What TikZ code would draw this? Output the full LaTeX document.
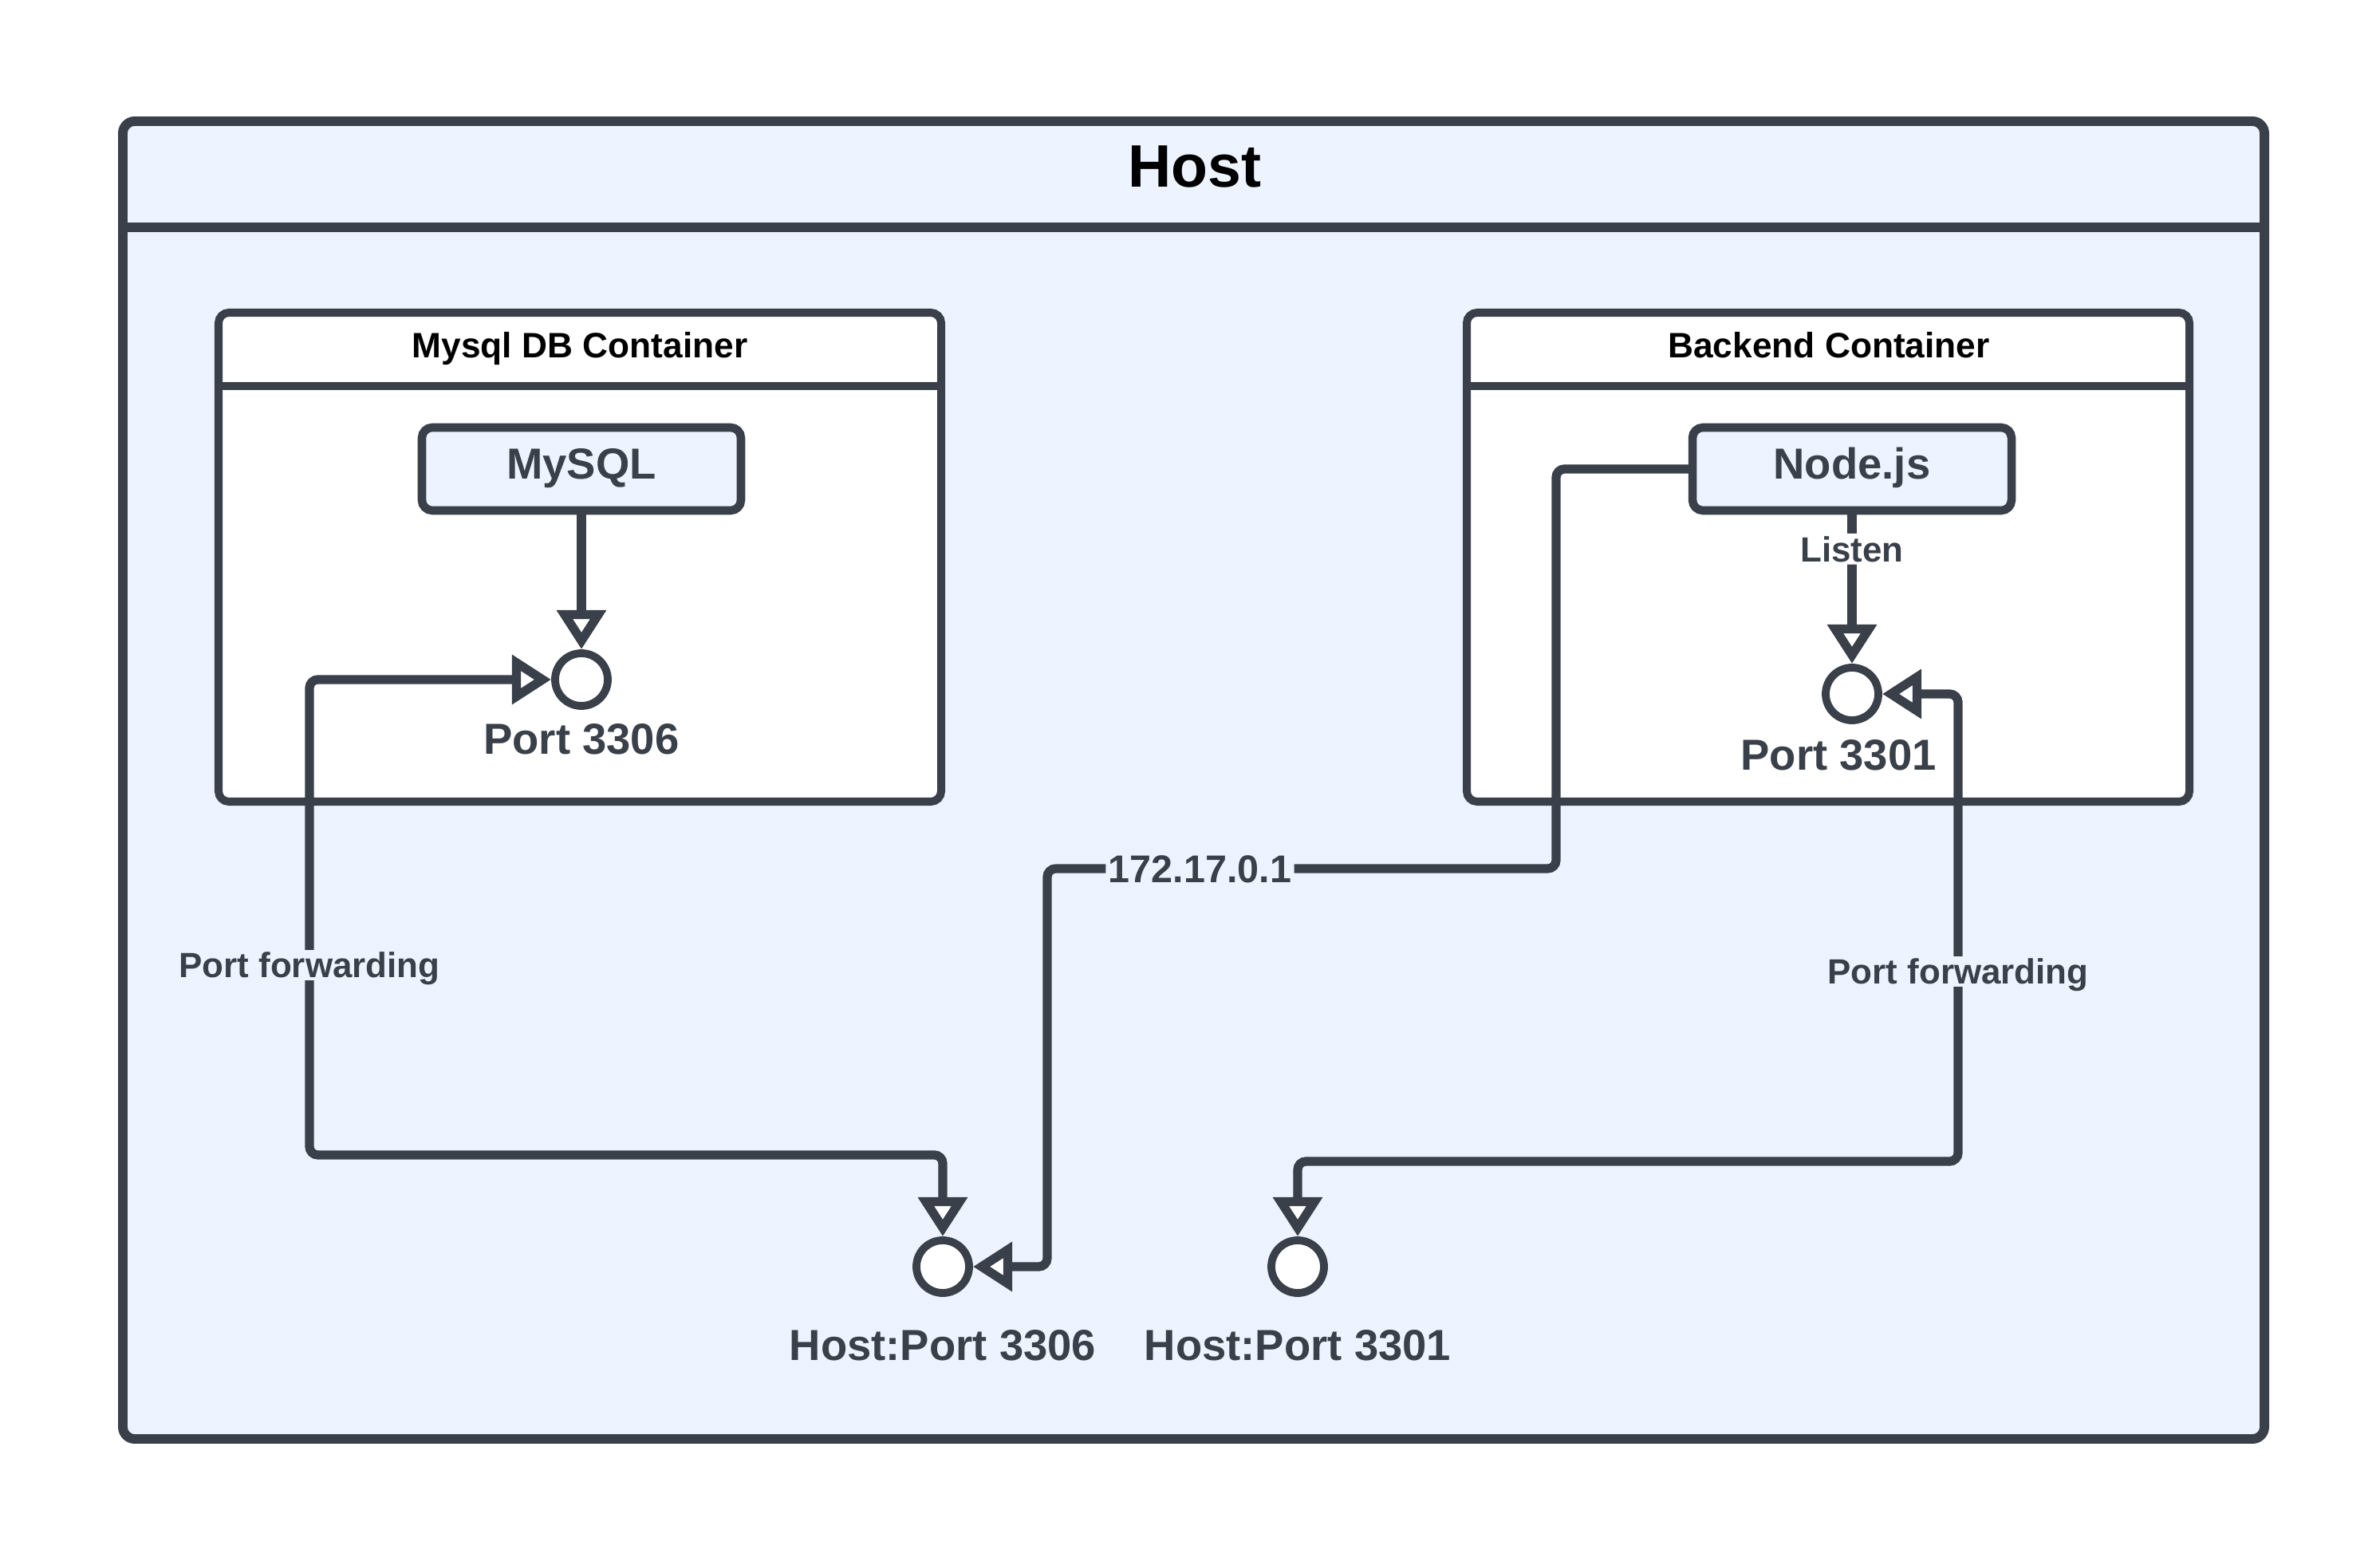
\documentclass[tikz,border=0pt]{standalone}
\usepackage{fontspec}
\setmainfont{Liberation Sans}
\usetikzlibrary{arrows.meta,positioning}
\definecolor{ink}{RGB}{58,64,73}
\definecolor{hostbg}{RGB}{237,244,255}
\tikzset{
  txt/.style={inner sep=0pt,text depth=0pt,font=\bfseries},
  big/.style={txt,text height=11.1pt,font=\fontsize{15.5}{18}\selectfont\bfseries},
  small/.style={txt,text height=9pt,font=\fontsize{12.5}{15}\selectfont\bfseries},
  hostbox/.style={draw=ink,line width=3.4pt,fill=hostbg,rounded corners=0.15cm},
  ctbox/.style={draw=ink,line width=2.85pt,fill=white,rounded corners=0.13cm,
    minimum width=9.06cm,minimum height=6.13cm},
  svcbox/.style={big,text depth=4pt,draw=ink,line width=3pt,fill=hostbg,rounded corners=0.13cm,
    minimum width=4cm,minimum height=1.04cm,text=ink},
  port/.style={circle,draw=ink,line width=2.8pt,fill=white,minimum size=0.66cm,inner sep=0pt},
  portlbl/.style={big,text=ink},
  cttitle/.style={small,font=\fontsize{12.6}{15}\selectfont\bfseries},
  linklbl/.style={small,inner sep=1pt,text=ink,fill=hostbg},
  conn/.style={draw=ink,line width=3.2pt,rounded corners=3pt,
    >={Triangle[length=14pt,width=17pt,fill=white]}},
}
\begin{document}
\begin{tikzpicture}
  \useasboundingbox (0,0) rectangle (29.84,-19.52);
  % host
  \node[hostbox,minimum width=26.85cm,minimum height=16.52cm] (host) at (14.965,-9.78) {};
  \draw[ink,line width=3.4pt] (host.west |- 0,-2.85) -- (host.east |- 0,-2.85);
  \node[txt,text height=15.3pt,font=\fontsize{21.4}{25}\selectfont\bfseries] (hosttitle) at (14.98,-2.08) {Host};

  % containers
  \node[ctbox] (mysqlct) at (7.27,-6.985) {};
  \draw[ink,line width=2.85pt] (mysqlct.west |- 0,-4.84) -- (mysqlct.east |- 0,-4.84);
  \node[cttitle] (mysqltitle) at (7.27,-4.33) {Mysql DB Container};
  \node[ctbox] (backct) at (22.92,-6.985) {};
  \draw[ink,line width=2.85pt] (backct.west |- 0,-4.84) -- (backct.east |- 0,-4.84);
  \node[cttitle] (backtitle) at (22.93,-4.33) {Backend Container};

  \node[svcbox] (mysql) at (7.29,-5.88) {MySQL};
  \node[svcbox] (nodejs) at (23.22,-5.88) {Node.js};

  % ports
  \node[port] (p3306) at (7.29,-8.52) {};
  \node[portlbl,below=0.16cm of p3306] (p3306lbl) {Port 3306};
  \node[port] (p3301) at (23.22,-8.70) {};
  \node[portlbl,below=0.18cm of p3301,xshift=-0.17cm] (p3301lbl) {Port 3301};
  \node[port] (hp3306) at (11.82,-15.88) {};
  \node[portlbl,below=0.4cm of hp3306] (hp3306lbl) {Host:Port 3306};
  \node[port] (hp3301) at (16.27,-15.88) {};
  \node[portlbl,below=0.4cm of hp3301] (hp3301lbl) {Host:Port 3301};

  \coordinate (fwdL) at (3.88,-14.48);
  \coordinate (fwdR) at (24.55,-14.56);
  \coordinate (ipA) at (19.51,-10.89);
  \coordinate (ipB) at (13.13,-10.89);

  \draw[conn,->] (mysql) -- (p3306);
  \draw[conn,->] (nodejs) -- node[linklbl,fill=white,pos=0.23] (listen) {Listen} (p3301);
  \draw[conn,<->] (hp3306.north) |- (fwdL) |- (p3306.west);
  \draw[conn,<->] (hp3301.north) |- (fwdR) |- (p3301.east);
  \draw[conn,->] (nodejs.west) -| (ipA) -- node[linklbl,pos=0.70,text height=10pt,font=\fontsize{13.8}{16}\selectfont\bfseries] (iplbl) {172.17.0.1} (ipB) |- (hp3306.east);

  \node[linklbl] (fwdLlbl) at (fwdL |- 0,-12.10) {Port forwarding};
  \node[linklbl] (fwdRlbl) at (fwdR |- 0,-12.18) {Port forwarding};
\end{tikzpicture}
\end{document}
